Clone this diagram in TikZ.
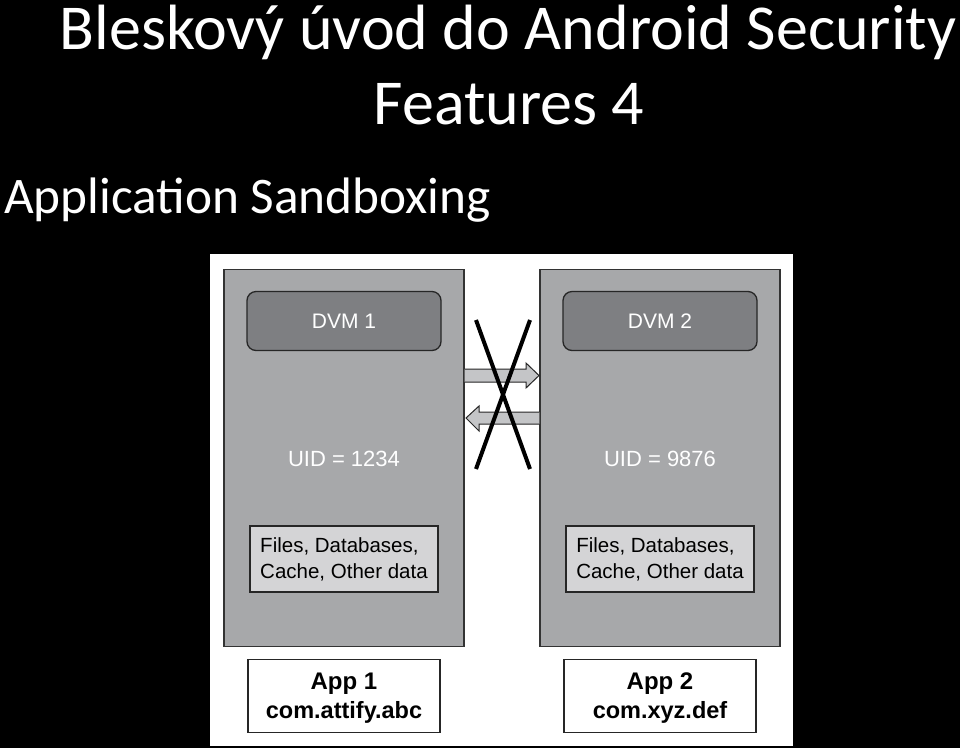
\documentclass[tikz,border=0pt]{standalone}
\usepackage{fontspec}
\setmainfont{Carlito}
\newfontfamily\diagfont{Liberation Sans}
\begin{document}
\begin{tikzpicture}[x=1pt,y=-1pt,
  sandbox/.style={draw=black!80,line width=1.3pt,fill=boxgray,minimum width=240pt,minimum height=377pt,inner sep=0pt},
  dvmbox/.style={draw=black!85,line width=1.3pt,fill=dvmgray,rounded corners=9pt,minimum width=194pt,minimum height=59pt,inner sep=0pt,text=white,font=\diagfont\fontsize{21}{21}\selectfont},
  uidtext/.style={text=white,font=\diagfont\fontsize{22}{22}\selectfont,inner sep=0pt},
  databox/.style={draw=black!85,line width=1.3pt,fill=datagray,minimum width=188pt,minimum height=66pt,inner sep=0pt,align=left,font=\diagfont\fontsize{20.5}{26}\selectfont},
  appbox/.style={draw=black!85,line width=1.3pt,fill=white,minimum width=192pt,minimum height=73pt,inner sep=0pt},
  apptext/.style={inner sep=0pt,anchor=base,font=\diagfont\bfseries\fontsize{#1}{#1}\selectfont},
  blockarrow/.style={draw=black!85,line width=1pt,fill=arrowgray},
  crossline/.style={line width=4pt,black}
]
\definecolor{boxgray}{HTML}{A7A8AA}
\definecolor{dvmgray}{HTML}{7E7F82}
\definecolor{datagray}{HTML}{D4D4D6}
\definecolor{arrowgray}{HTML}{C4C5C7}
\useasboundingbox (0,0) rectangle (960,748);
\fill[black] (0,0) rectangle (960,748);
% titles
\node[text=white,font=\fontsize{64}{64}\selectfont,anchor=base,inner sep=0pt] (t1) at (508,49) {Bleskový úvod do Android Security};
\node[text=white,font=\fontsize{64}{64}\selectfont,anchor=base,inner sep=0pt] (t2) at (509,124) {Features 4};
\node[text=white,font=\fontsize{51.3}{51.3}\selectfont,anchor=base west,inner sep=0pt] (t3) at (4,213) {Application Sandboxing};
% white panel
\fill[white] (210,254) rectangle (793,746);
% sandboxes
\node[sandbox] (sb1) at (344,458) {};
\node[sandbox] (sb2) at (660,458) {};
\node[dvmbox] (dvm1) at (344,321) {DVM 1};
\node[dvmbox] (dvm2) at (660,321) {DVM 2};
\node[uidtext] (uid1) at (344,459) {UID = 1234};
\node[uidtext] (uid2) at (660,459) {UID = 9876};
\node[databox] (data1) at (344,559) {Files, Databases,\\Cache, Other data};
\node[databox] (data2) at (660,559) {Files, Databases,\\Cache, Other data};
\node[appbox] (app1) at (344,696) {};
\node[appbox] (app2) at (660,696) {};
\node[apptext=24] (app1a) at (344,689) {App 1};
\node[apptext=23.5] (app1b) at (344,718) {com.attify.abc};
\node[apptext=24] (app2a) at (660,689) {App 2};
\node[apptext=23.5] (app2b) at (660,718) {com.xyz.def};
% block arrows
\draw[blockarrow] (sb1.east |- 0,369) -- (526,369) -- (526,363) -- (539,375.5) -- (526,388) -- (526,382) -- (sb1.east |- 0,382);
\draw[blockarrow] (sb2.west |- 0,412) -- (479,412) -- (479,406) -- (466,418) -- (479,431) -- (479,424) -- (sb2.west |- 0,424);
% cross
\coordinate (xa) at (476,320);
\coordinate (xb) at (530,469);
\coordinate (xc) at (530,320);
\coordinate (xd) at (476,469);
\draw[crossline] (xa) -- (xb);
\draw[crossline] (xc) -- (xd);
\end{tikzpicture}
\end{document}
